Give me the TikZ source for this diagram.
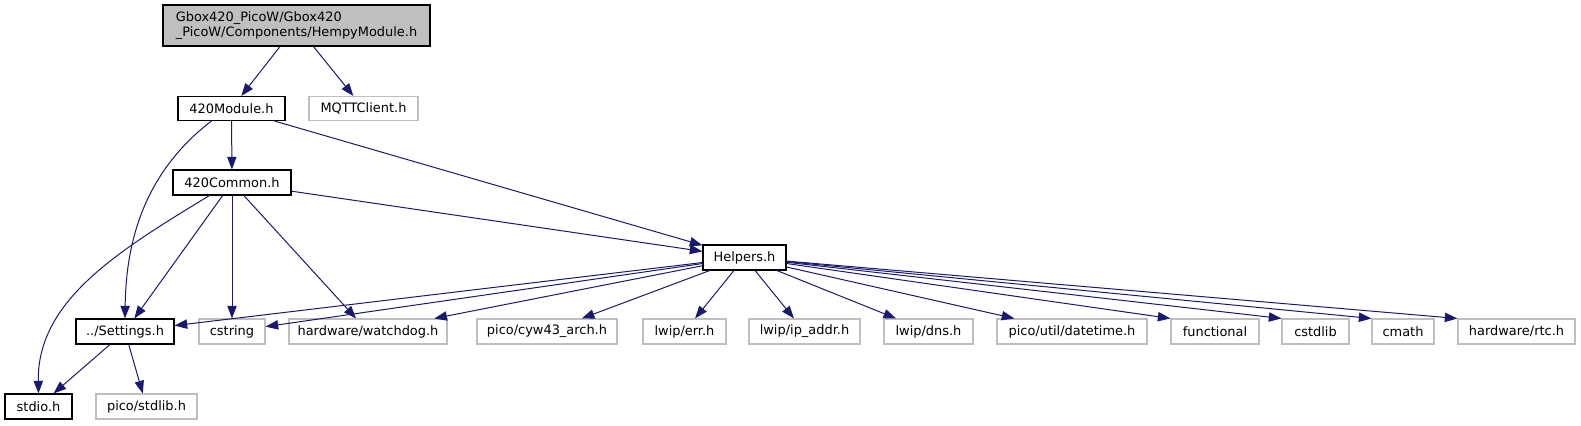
\documentclass[tikz,border=0pt]{standalone}
\usepackage{fontspec}
\setmainfont{DejaVu Sans}
\usetikzlibrary{arrows.meta}
\definecolor{azulnoche}{RGB}{25,25,112}
\definecolor{grisext}{RGB}{191,191,191}

\begin{document}
\begin{tikzpicture}[x=0.75pt, y=-0.75pt,
    caja/.style={draw=black, line width=0.8pt, inner sep=0pt,
      minimum width=#1*0.75pt, minimum height=25*0.75pt,
      font=\fontsize{9.7}{10.9}\selectfont},
    externa/.style={caja=#1, draw=grisext},
    flecha/.style={draw=azulnoche, line width=0.75pt,
      -{Triangle[length=9.5pt, width=7pt]}}]
    \useasboundingbox (0,0) rectangle (1581,425);

    \node[caja=267, minimum height=41*0.75pt, fill=grisext, align=left] (raiz) at (296.5,25.5)
      {Gbox420\_PicoW/Gbox420\\\_PicoW/Components/HempyModule.h};
    \node[caja=107, minimum height=24*0.75pt] (modulo) at (231.5,108.5) {420Module.h};
    \node[externa=109, minimum height=24*0.75pt] (mqtt) at (363.5,108.5) {MQTTClient.h};
    \node[caja=118] (comun) at (232,182.5) {420Common.h};
    \node[caja=83] (helpers) at (744.5,257.5) {Helpers.h};

    \node[caja=98] (settings) at (125,331.5) {../Settings.h};
    \node[externa=66] (cstring) at (232,331.5) {cstring};
    \node[externa=158] (watchdog) at (368,331.5) {hardware/watchdog.h};
    \node[externa=140] (cyw) at (547,331.5) {pico/cyw43\_arch.h};
    \node[externa=83] (err) at (684.5,331.5) {lwip/err.h};
    \node[externa=111] (ipaddr) at (804.5,331.5) {lwip/ip\_addr.h};
    \node[externa=89] (dns) at (928.5,331.5) {lwip/dns.h};
    \node[externa=150] (datetime) at (1072,331.5) {pico/util/datetime.h};
    \node[externa=88] (functional) at (1215,331.5) {functional};
    \node[externa=67] (cstdlib) at (1315.5,331.5) {cstdlib};
    \node[externa=62] (cmath) at (1403,331.5) {cmath};
    \node[externa=117] (rtc) at (1516.5,331.5) {hardware/rtc.h};

    \node[caja=67] (stdio) at (38.5,406.5) {stdio.h};
    \node[externa=101] (stdlib) at (146.5,406.5) {pico/stdlib.h};

    % dependencias de inclusión
    \draw[flecha] (raiz) -- (modulo);
    \draw[flecha] (raiz) -- (mqtt);
    \draw[flecha] (modulo.-148) .. controls (145,172) and (126,240) .. (settings.north);
    \draw[flecha] (modulo) -- (comun);
    \draw[flecha] (modulo) -- (helpers);
    \draw[flecha] (comun) -- (helpers);
    \draw[flecha] (comun.-150) .. controls (120,250) and (37,300) .. (stdio.north);
    \draw[flecha] (comun) -- (settings);
    \draw[flecha] (comun) -- (cstring);
    \draw[flecha] (comun) -- (watchdog);
    \draw[flecha] (settings) -- (stdio);
    \draw[flecha] (settings) -- (stdlib);
    \foreach \destino in {settings, cstring, watchdog, cyw, err, ipaddr, dns, datetime}
      \draw[flecha] (helpers) -- (\destino);
    \foreach \destino in {functional, cstdlib, cmath, rtc}
      \draw[flecha] (helpers) -- (\destino.north west);
\end{tikzpicture}
\end{document}
